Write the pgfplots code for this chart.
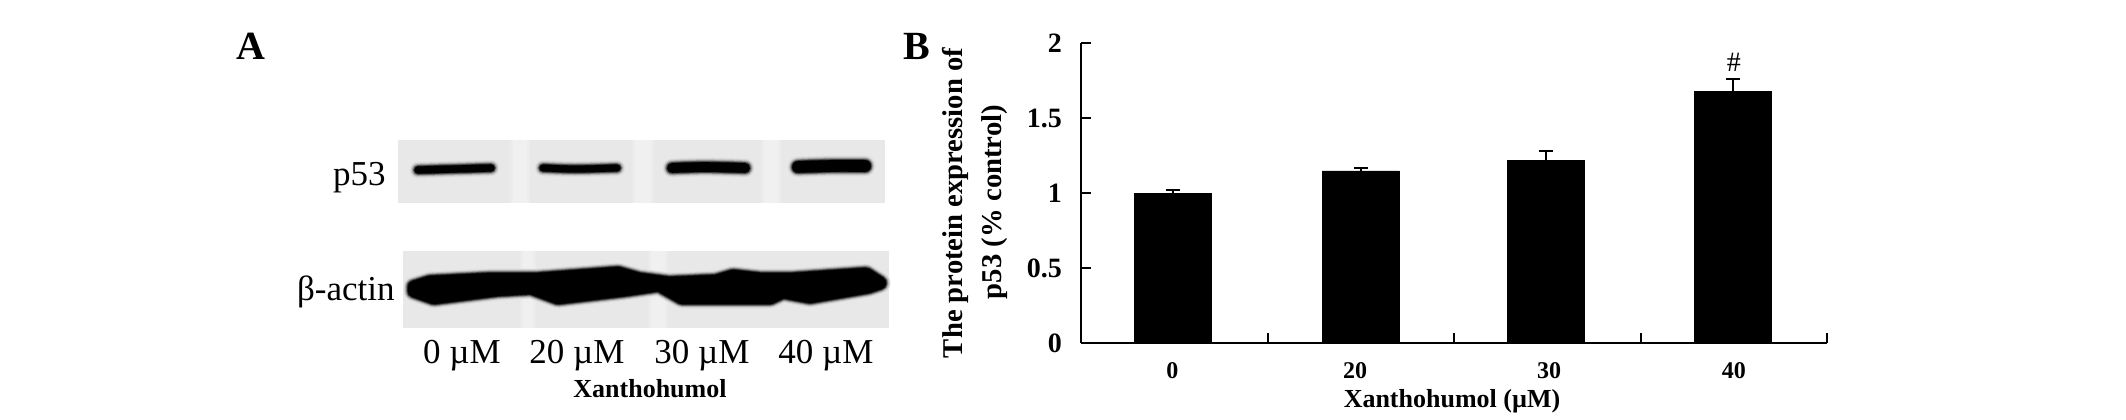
\documentclass[border=0pt]{standalone}
\usepackage{pgfplots}
\pgfplotsset{compat=1.18}
\usepackage{fontspec}
\setmainfont{Liberation Serif}
\newcommand\band[2]{%
  \addplot[no marks,smooth,line cap=round,draw=black!13,line width=#2pt+4.6pt] coordinates {#1};
  \addplot[no marks,smooth,line cap=round,draw=black!20,line width=#2pt+3.6pt] coordinates {#1};
  \addplot[no marks,smooth,line cap=round,draw=black!35,line width=#2pt+2.6pt] coordinates {#1};
  \addplot[no marks,smooth,line cap=round,draw=black!60,line width=#2pt+1.6pt] coordinates {#1};
  \addplot[no marks,smooth,line cap=round,draw=black!82,line width=#2pt+.7pt] coordinates {#1};
  \addplot[no marks,smooth,line cap=round,draw=black,line width=#2pt] coordinates {#1};
}
\newcommand\vlane[4]{%
  \addplot[no marks,draw=black!8,line width=#2pt+3pt] coordinates {(#1,#3) (#1,#4)};
  \addplot[no marks,draw=black!7,line width=#2pt+1.5pt] coordinates {(#1,#3) (#1,#4)};
  \addplot[no marks,draw=black!6,line width=#2pt] coordinates {(#1,#3) (#1,#4)};
}
\newcommand\actinshape{(414,287) (430,282) (491,279) (538,279) (618,273) (639,279) (669,283) (716,281) (733,276) (760,279) (793,279) (866,274) (880,283) (868,287) (810,297) (783,292) (770,298) (719,298) (682,298) (659,285) (625,290) (558,298) (531,288) (497,290) (434,298) (414,291)}
\newcommand\actinlayer[2]{\addplot[fill=black!#1,draw=black!#1,line width=#2pt,line join=round] coordinates {\actinshape} --cycle;}
\begin{document}
\begin{tikzpicture}[x=1pt,y=1pt]
\path[use as bounding box] (0,0) rectangle (1063pt,209.5pt);
\begin{axis}[at={(0,0)},anchor=south west,scale only axis,width=1063pt,height=209.5pt,
  xmin=0,xmax=2126,ymin=0,ymax=419,y dir=reverse,hide axis,clip=false]
% blot p53
\addplot[fill=black!9,draw=none] coordinates {(398,140) (885,140) (885,203) (398,203)} --cycle;
\vlane{520}{7}{140}{203}
\vlane{643}{8}{140}{203}
\vlane{771}{7}{140}{203}
\band{(418,170) (455,169) (491,168)}{3.6}
\band{(543,168) (575,169) (617,168)}{3.4}
\band{(672,168) (705,167) (745,168)}{4.8}
\band{(798,167) (830,166) (865,166)}{5.8}
% blot actin
\addplot[fill=black!9,draw=none] coordinates {(403,251) (889,251) (889,328) (403,328)} --cycle;
\vlane{528}{5}{251}{328}
\vlane{658}{7}{251}{328}
\actinlayer{13}{10.5}
\actinlayer{25}{9.4}
\actinlayer{45}{8.4}
\actinlayer{70}{7.5}
\actinlayer{90}{6.7}
\actinlayer{100}{6}
% texts
\node[anchor=base,font=\fontsize{20}{20}\selectfont\bfseries] at (axis cs:251,59) {A};
\node[anchor=base,font=\fontsize{20}{20}\selectfont\bfseries] at (axis cs:917,59) {B};
\node[anchor=base east,inner sep=0,font=\fontsize{17.5}{18}\selectfont] at (axis cs:386,185) {p53};
\node[anchor=base east,inner sep=0,font=\fontsize{17.5}{18}\selectfont] at (axis cs:395,300) {β-actin};
\node[anchor=base,inner sep=0,font=\fontsize{17.5}{18}\selectfont] at (axis cs:462,363) {0 µM};
\node[anchor=base,inner sep=0,font=\fontsize{17.5}{18}\selectfont] at (axis cs:577,363) {20 µM};
\node[anchor=base,inner sep=0,font=\fontsize{17.5}{18}\selectfont] at (axis cs:702,363) {30 µM};
\node[anchor=base,inner sep=0,font=\fontsize{17.5}{18}\selectfont] at (axis cs:826,363) {40 µM};
\node[anchor=base,inner sep=0,font=\fontsize{13}{13}\selectfont\bfseries] at (axis cs:650,397) {Xanthohumol};
\node[anchor=base,inner sep=0,font=\fontsize{13}{13}\selectfont\bfseries] at (axis cs:1452,407) {Xanthohumol (µM)};
\node[rotate=90,inner sep=0] at (axis cs:955,203) {\resizebox{155pt}{!}{\fontsize{12}{12}\selectfont\bfseries The protein expression of}};
\node[rotate=90,inner sep=0] at (axis cs:995,202) {\resizebox{97pt}{!}{\fontsize{12}{12}\selectfont\bfseries p53 (\% control)}};
\end{axis}
\begin{axis}[at={(540.5pt,38pt)},anchor=south west,scale only axis,width=373pt,height=150pt,
  xmin=0,xmax=4,ymin=0,ymax=2,
  axis x line=bottom,axis y line=left,axis line style={-,line width=1pt},
  tick align=inside,major tick style={black,line width=1pt},major tick length=5pt,
  xtick={0,1,2,3,4},xticklabels={},
  extra x ticks={0.49,1.47,2.51,3.5},extra x tick labels={0,20,30,40},
  extra x tick style={major tick length=0pt,tick label style={yshift=-6pt}},
  ytick={0,0.5,1,1.5,2},yticklabels={0,0.5,1,1.5,2},
  y tick label style={font=\fontsize{14}{14}\selectfont\bfseries,xshift=-6pt},
  x tick label style={font=\fontsize{12}{12}\selectfont\bfseries},
  clip=false]
\addplot[ybar,bar width=38.5pt,bar shift=0pt,fill=black,draw=black,
  error bars/.cd,y dir=plus,y explicit,
  error bar style={line width=1pt,black},
  error mark options={rotate=90,mark size=3.5pt,line width=1pt,black}]
  coordinates {
   (0.493,1.00) +- (0,0.023)
   (1.501,1.147) +- (0,0.02)
   (2.493,1.218) +- (0,0.062)
   (3.496,1.68) +- (0,0.077)};
\node[font=\fontsize{14}{14}\selectfont] at (axis cs:3.5,1.873) {\#};
\end{axis}
\end{tikzpicture}
\end{document}
